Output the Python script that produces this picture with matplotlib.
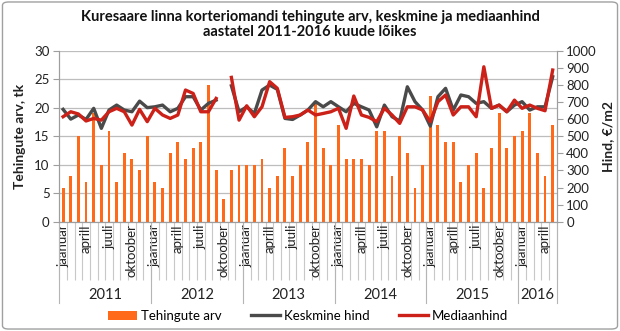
import matplotlib
matplotlib.use("Agg")
import matplotlib.pyplot as plt
import numpy as np
from matplotlib.patches import FancyBboxPatch

plt.rcParams["font.family"] = ["Lato", "DejaVu Sans"]

YEARS = ["2011", "2012", "2013", "2014", "2015", "2016"]
MONTHS_PER_YEAR = [12, 12, 12, 12, 12, 5]
MONTH_NAMES = ["jaanuar", "", "", "aprill", "", "", "juuli", "", "", "oktoober", "", ""]

# tehingute arv (tk), jaanuar 2011 .. mai 2016
deals = [
    6, 8, 15, 7, 19, 10, 16, 7, 12, 11, 9, 15,
    7, 6, 12, 14, 11, 13, 14, 24, 9, 4, 9, 10,
    10, 10, 11, 6, 8, 13, 8, 10, 14, 21, 13, 10,
    17, 11, 11, 11, 10, 16, 16, 8, 15, 12, 6, 10,
    22, 17, 14, 14, 7, 10, 12, 6, 13, 19, 13, 15,
    16, 19, 12, 8, 17,
]

# keskmine hind (EUR/m2)
mean_price = [
    657, 600, 624, 598, 663, 546, 653, 682, 653, 643, 705, 667,
    672, 682, 643, 663, 731, 731, 653, 692, 711, np.nan, 795, 643,
    672, 633, 770, 799, 774, 604, 598, 624, 653, 702, 672, 702,
    672, 643, 692, 672, 653, 555, 682, 614, 589, 789, 702, 653,
    559, 731, 780, 653, 741, 731, 692, 702, 663, 682, 643, 682,
    702, 653, 672, 672, 848,
]

# mediaanhind (EUR/m2)
median_price = [
    614, 643, 630, 589, 604, 594, 643, 663, 643, 565, 657, 585,
    663, 624, 604, 624, 770, 750, 643, 643, 721, np.nan, 844, 594,
    678, 614, 672, 819, 780, 610, 614, 624, 653, 624, 633, 643,
    663, 546, 735, 624, 610, 585, 663, 624, 575, 672, 672, 653,
    585, 702, 741, 624, 672, 672, 614, 906, 663, 682, 643, 711,
    663, 682, 663, 649, 887,
]

BAR_COLOR = "#FF6A1A"
MEAN_COLOR = "#4A4A4A"
MEDIAN_COLOR = "#CC2118"
GRID = "#BDBDBD"
TEXT = "#222222"

n = len(deals)
x = np.arange(n)

fig = plt.figure(figsize=(6.2, 3.31), dpi=100)
ax = fig.add_axes([0.0956, 0.3302, 0.802, 0.5166])
ax2 = ax.twinx()

bars = ax.bar(x, deals, width=0.38, color=BAR_COLOR, label="Tehingute arv", zorder=2)
ax2.plot(x, mean_price, color=MEAN_COLOR, lw=2.4, label="Keskmine hind", zorder=3)
ax2.plot(x, median_price, color=MEDIAN_COLOR, lw=2.4, label="Mediaanhind", zorder=4)

ax.set_xlim(-0.5, n - 0.5)
ax.set_ylim(0, 30)
ax.set_yticks(range(0, 31, 5))
ax2.set_ylim(0, 1000)
ax2.set_yticks(range(0, 1001, 100))
ax.grid(axis="y", color=GRID, lw=0.9)
ax.set_axisbelow(True)
ax.set_zorder(ax2.get_zorder() - 1)
ax.patch.set_visible(False)

for a in (ax, ax2):
    a.spines["top"].set_visible(False)
    for side in ("left", "right", "bottom"):
        a.spines[side].set_color("#9E9E9E")
ax.tick_params(axis="y", labelsize=9.5, colors=TEXT, length=4, color="#9E9E9E", pad=3)
ax2.tick_params(axis="y", labelsize=9.5, colors=TEXT, length=4, color="#9E9E9E", pad=3)

# category axis: a tick line at every month boundary, labels every third month
ax.set_xticks(np.arange(-0.5, n, 1.0))
ax.set_xticklabels([])
ax.tick_params(axis="x", which="major", length=42, color="#C8C8C8", width=0.8)
label_pos = [i for i in range(n) if MONTH_NAMES[i % 12]]
ax.set_xticks(label_pos, minor=True)
ax.set_xticklabels([MONTH_NAMES[i % 12] for i in label_pos], minor=True,
                   rotation=90, fontsize=9.5, color=TEXT, va="top")
ax.tick_params(axis="x", which="minor", length=0, pad=2)

trans = ax.get_xaxis_transform()
start = 0
for year, count in zip(YEARS, MONTHS_PER_YEAR):
    ax.plot([start - 0.5, start - 0.5], [0, -0.475], transform=trans, color="#B5B5B5",
            lw=0.8, clip_on=False)
    ax.text(start - 0.5 + count / 2, -0.43, year, transform=trans, ha="center", va="center",
            fontsize=10.5, color=TEXT)
    start += count
ax.plot([start - 0.5, start - 0.5], [0, -0.475], transform=trans, color="#B5B5B5",
        lw=0.8, clip_on=False)

ax.set_ylabel("Tehingute arv, tk", fontsize=10, fontweight="bold", color=TEXT, labelpad=6)
ax2.set_ylabel("Hind, €/m2", fontsize=10, fontweight="bold", color=TEXT, va="center")
ax2.yaxis.set_label_coords(1.104, 0.5)

fig.text(0.5, 0.948, "Kuresaare linna korteriomandi tehingute arv, keskmine ja mediaanhind",
         ha="center", va="center", fontsize=10.5, fontweight="bold", color="#111111")
fig.text(0.5, 0.902, "aastatel 2011-2016 kuude lõikes",
         ha="center", va="center", fontsize=10.5, fontweight="bold", color="#111111")

handles = [bars] + ax2.get_lines()
fig.legend(handles, [h.get_label() for h in handles], loc="center", ncol=3,
           bbox_to_anchor=(0.497, 0.045), frameon=False, fontsize=9.5,
           handlelength=2.2, handletextpad=0.3, columnspacing=2.2)

fig.patches.append(FancyBboxPatch((0.004, 0.006), 0.992, 0.988, boxstyle="round,pad=0,rounding_size=0.01",
                                  transform=fig.transFigure, fill=False, edgecolor="#A0A0A0", lw=1.0))

fig.savefig("out.png", dpi=100)
